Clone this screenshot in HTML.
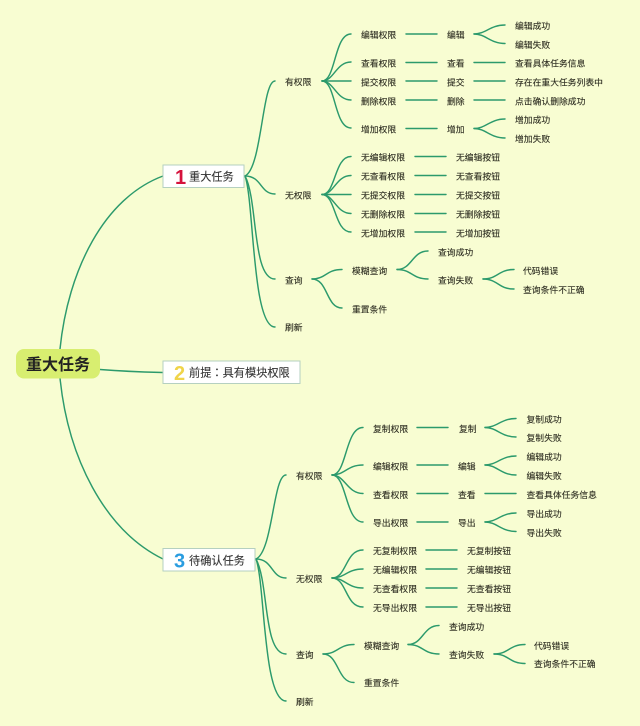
<!DOCTYPE html>
<html><head><meta charset="utf-8"><style>
html,body{margin:0;padding:0;background:#f8fdd2}
svg{display:block}
text{font-family:"Liberation Sans","Noto Sans CJK SC",sans-serif;font-size:8.8px;fill:#2e2e22;stroke:#2e2e22;stroke-width:.12}
.c path{fill:none;stroke:#2c9a6c;stroke-width:1.45;stroke-linecap:round}
.t{font-size:11.2px;fill:#333;stroke:#333}
.n{font-size:20px;font-weight:bold;stroke:none}
.all{filter:blur(.3px)}
</style></head><body>
<svg width="640" height="726" viewBox="0 0 640 726" xmlns="http://www.w3.org/2000/svg">
<rect width="640" height="726" fill="#f8fdd2"/>
<g class="all">
<g class="c">
<!-- root -->
<path d="M60 349C68 270 104 198 163 176"/>
<path d="M60 378C68 457 104 530 163 559"/>
<path d="M100 369.500C120 371 140 372 163 372.500" style="stroke-width:1.600"/>
<!-- node 1 -->
<path d="M245 176C262 168 262 81 275 81"/>
<path d="M245 176C262 176 260 194 275 194"/>
<path d="M245 176C258 200 252 279 275 279"/>
<path d="M245 176C254 200 252 327 275 327"/>
<!-- has permission -->
<path d="M322 81C336 81 334 34 351 34"/>
<path d="M322 81C334 81 336 62 351 62"/>
<path d="M322 81H351"/>
<path d="M322 81C334 81 336 100 351 100"/>
<path d="M322 81C336 81 334 128 351 128"/>
<path d="M406 34H437M406 62.500H437M406 81H437M406 100H437M406 128.500H437"/>
<path d="M474 34C486 34 490 25 505 25"/>
<path d="M474 34C486 34 490 43.500 505 43.500"/>
<path d="M474 62.500H505M474 81H505M474 100H505"/>
<path d="M474 128.500C486 128.500 490 119 505 119"/>
<path d="M474 128.500C486 128.500 490 138 505 138"/>
<!-- no permission -->
<path d="M322 194.500C336 194.500 334 156.500 351 156.500"/>
<path d="M322 194.500C334 194.500 336 175.500 351 175.500"/>
<path d="M322 194.500H351"/>
<path d="M322 194.500C334 194.500 336 213.500 351 213.500"/>
<path d="M322 194.500C336 194.500 334 232 351 232"/>
<path d="M415 156.500H446M415 175.500H446M415 194.500H446M415 213.500H446M415 232H446"/>
<!-- query 1 -->
<path d="M312 279C326 279 326 269.500 342 269.500"/>
<path d="M312 279C328 279 326 308 342 308"/>
<path d="M397 269.500C412 269.500 412 251 428 251"/>
<path d="M397 269.500C412 269.500 412 279 428 279"/>
<path d="M483 279C498 279 498 269.500 514 269.500"/>
<path d="M483 279C498 279 498 289 514 289"/>
<!-- node 3 -->
<path d="M256 559C273 551 273 475 286 475"/>
<path d="M256 559C273 559 271 578 286 578"/>
<path d="M256 559C269 583 263 654 286 654"/>
<path d="M256 559C265 583 263 701 286 701"/>
<!-- has permission 3 -->
<path d="M332 475C347 475 345 427.500 363 427.500"/>
<path d="M332 475C345 475 347 465 363 465"/>
<path d="M332 475C345 475 347 493.500 363 493.500"/>
<path d="M332 475C347 475 345 522 363 522"/>
<path d="M417 427.500H448M417 465H448M417 493.500H448M417 522H448"/>
<path d="M485 427.500C497 427.500 501 418.500 516 418.500"/>
<path d="M485 427.500C497 427.500 501 437 516 437"/>
<path d="M485 465C497 465 501 456 516 456"/>
<path d="M485 465C497 465 501 475 516 475"/>
<path d="M485 493.500H516"/>
<path d="M485 522C497 522 501 513 516 513"/>
<path d="M485 522C497 522 501 531.500 516 531.500"/>
<!-- no permission 3 -->
<path d="M332 578C347 578 345 550 363 550"/>
<path d="M332 578C345 578 347 569 363 569"/>
<path d="M332 578C345 578 347 588 363 588"/>
<path d="M332 578C347 578 345 607 363 607"/>
<path d="M426 550H457M426 569H457M426 588H457M426 607H457"/>
<!-- query 3 -->
<path d="M323 654C338 654 338 644.500 354 644.500"/>
<path d="M323 654C339 654 337 682.500 354 682.500"/>
<path d="M408 644.500C423 644.500 423 625.500 439 625.500"/>
<path d="M408 644.500C423 644.500 423 654 439 654"/>
<path d="M494 654C509 654 509 644.500 525 644.500"/>
<path d="M494 654C509 654 509 663.500 525 663.500"/>
</g>

<!-- root box -->
<rect x="16" y="349" width="84" height="29.500" rx="8" fill="#d8ee70"/>
<text x="26" y="370" style="font-size:16px;font-weight:bold;fill:#222;stroke:none">重大任务</text>

<!-- main boxes -->
<rect x="163" y="165" width="81" height="22.500" fill="#fff" stroke="#b5d0c0" stroke-width="1"/>
<text class="n" x="175" y="184" style="fill:#d5123c">1</text>
<text class="t" x="189" y="180.500">重大任务</text>

<rect x="163" y="361" width="137" height="22.500" fill="#fff" stroke="#b5d0c0" stroke-width="1"/>
<text class="n" x="174" y="380" style="fill:#f0d44a">2</text>
<text class="t" x="189" y="376.500" style="font-family:'Liberation Sans','Noto Sans CJK TC',sans-serif">前提：具有模块权限</text>

<rect x="163" y="548.500" width="92" height="22.500" fill="#fff" stroke="#b5d0c0" stroke-width="1"/>
<text class="n" x="174" y="567.500" style="fill:#2a9de0">3</text>
<text class="t" x="189" y="564.500">待确认任务</text>

<!-- section 1 -->
<text x="285" y="85">有权限</text>
<text x="361" y="38">编辑权限</text><text x="447" y="38">编辑</text>
<text x="515" y="29">编辑成功</text><text x="515" y="48">编辑失败</text>
<text x="361" y="66.500">查看权限</text><text x="447" y="66.500">查看</text><text x="515" y="66.500">查看具体任务信息</text>
<text x="361" y="85.500">提交权限</text><text x="447" y="85.500">提交</text><text x="515" y="85.500">存在在重大任务列表中</text>
<text x="361" y="104.500">删除权限</text><text x="447" y="104.500">删除</text><text x="515" y="104.500">点击确认删除成功</text>
<text x="361" y="132.500">增加权限</text><text x="447" y="132.500">增加</text>
<text x="515" y="123">增加成功</text><text x="515" y="142">增加失败</text>

<text x="285" y="198.500">无权限</text>
<text x="361" y="160.500">无编辑权限</text><text x="456" y="160.500">无编辑按钮</text>
<text x="361" y="179.500">无查看权限</text><text x="456" y="179.500">无查看按钮</text>
<text x="361" y="198.500">无提交权限</text><text x="456" y="198.500">无提交按钮</text>
<text x="361" y="217.500">无删除权限</text><text x="456" y="217.500">无删除按钮</text>
<text x="361" y="236.500">无增加权限</text><text x="456" y="236.500">无增加按钮</text>

<text x="285" y="283.500">查询</text>
<text x="352" y="274">模糊查询</text><text x="352" y="312.500">重置条件</text>
<text x="438" y="255.500">查询成功</text><text x="438" y="283.500">查询失败</text>
<text x="523" y="274">代码错误</text><text x="523" y="293">查询条件不正确</text>
<text x="285" y="330.500">刷新</text>

<!-- section 3 -->
<text x="296" y="479">有权限</text>
<text x="373" y="432">复制权限</text><text x="459" y="432">复制</text>
<text x="526.500" y="422.500">复制成功</text><text x="526.500" y="441">复制失败</text>
<text x="373" y="469.500">编辑权限</text><text x="458" y="469.500">编辑</text>
<text x="526.500" y="460">编辑成功</text><text x="526.500" y="479">编辑失败</text>
<text x="373" y="498">查看权限</text><text x="458" y="498">查看</text><text x="526.500" y="498">查看具体任务信息</text>
<text x="373" y="526">导出权限</text><text x="458" y="526">导出</text>
<text x="526.500" y="517">导出成功</text><text x="526.500" y="536">导出失败</text>

<text x="296" y="582">无权限</text>
<text x="373" y="554">无复制权限</text><text x="467" y="554">无复制按钮</text>
<text x="373" y="573">无编辑权限</text><text x="467" y="573">无编辑按钮</text>
<text x="373" y="592">无查看权限</text><text x="467" y="592">无查看按钮</text>
<text x="373" y="611">无导出权限</text><text x="467" y="611">无导出按钮</text>

<text x="296" y="658">查询</text>
<text x="364" y="649">模糊查询</text><text x="364" y="686">重置条件</text>
<text x="449" y="630">查询成功</text><text x="449" y="658">查询失败</text>
<text x="534" y="649">代码错误</text><text x="534" y="667">查询条件不正确</text>
<text x="296" y="705">刷新</text>
</g>
</svg>
</body></html>
